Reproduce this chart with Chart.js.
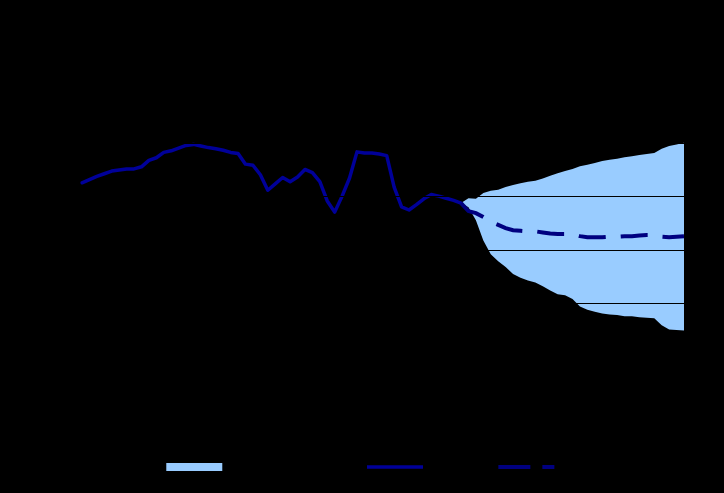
<!DOCTYPE html>
<html>
<head>
<meta charset="utf-8">
<script src="https://cdn.jsdelivr.net/npm/chart.js@4/dist/chart.umd.min.js"></script>
<style>
  html, body { margin: 0; padding: 0; background: #000; }
  #wrap { width: 724px; height: 493px; }
</style>
</head>
<body>
<div id="wrap"><canvas id="fanChart" width="724" height="493"></canvas></div>
<script>
// Quarterly periods, history then projection
const startYear = 1999;
const quarters = [];
for (let i = 0; i < 82; i++) {
    quarters.push(String(startYear + Math.floor(i / 4)) + ' Q' + (i % 4 + 1));
}

// History (first 52 quarters)
const actual = [2.26, 2.32, 2.38, 2.43, 2.48, 2.50, 2.52, 2.52, 2.56, 2.68, 2.73, 2.83, 2.86,
    2.91, 2.96, 2.98, 2.95, 2.92, 2.90, 2.87, 2.83, 2.81, 2.61, 2.59, 2.41, 2.12, 2.24, 2.36,
    2.28, 2.37, 2.51, 2.45, 2.28, 1.92, 1.71, 2.01, 2.35, 2.84, 2.82, 2.82, 2.80, 2.77, 2.18,
    1.81, 1.75, 1.85, 1.96, 2.04, 2.01, 1.97, 1.93, 1.88];

// Projection starts at the last actual quarter
const forecast = [1.88, 1.73, 1.69, 1.62, 1.53, 1.47, 1.41, 1.37, 1.36, 1.35, 1.35, 1.33, 1.31,
    1.30, 1.30, 1.30, 1.26, 1.24, 1.24, 1.24, 1.25, 1.25, 1.26, 1.26, 1.27, 1.28, 1.28, 1.25,
    1.24, 1.25, 1.26];
const bandUpper = [1.88, 1.97, 1.96, 2.07, 2.11, 2.13, 2.18, 2.22, 2.25, 2.28, 2.30, 2.34, 2.39,
    2.44, 2.48, 2.52, 2.57, 2.60, 2.63, 2.67, 2.69, 2.71, 2.74, 2.76, 2.78, 2.80, 2.82, 2.90,
    2.95, 2.98, 3.01];
const bandLower = [1.88, 1.80, 1.56, 1.18, 0.92, 0.79, 0.68, 0.55, 0.48, 0.43, 0.39, 0.32, 0.24,
    0.17, 0.15, 0.08, -0.06, -0.12, -0.16, -0.19, -0.21, -0.22, -0.24, -0.24, -0.26, -0.27,
    -0.28, -0.41, -0.49, -0.50, -0.51];

const seriesNames = ['Confidence interval', 'Actual', 'Median'];

// pad the series out to the full period axis
const forecastStart = actual.length - 1;
function padHistory(arr) {
    return arr.concat(new Array(quarters.length - arr.length).fill(null));
}
function padProjection(arr) {
    return new Array(forecastStart).fill(null).concat(arr);
}

Chart.defaults.color = '#000';
Chart.defaults.font.family = '"Liberation Sans", Arial, sans-serif';
Chart.defaults.font.size = 12;

document.addEventListener("DOMContentLoaded", function () {
    const ctx = document.getElementById('fanChart');
    new Chart(ctx, {
        type: 'line',
        data: {
            labels: quarters,
            datasets: [
                {
                    label: 'upper',
                    data: padProjection(bandUpper),
                    borderWidth: 0,
                    borderColor: 'rgba(0,0,0,0)',
                    pointRadius: 0,
                    fill: false,
                    order: 3
                },
                {
                    label: seriesNames[0],
                    data: padProjection(bandLower),
                    borderWidth: 0,
                    borderColor: 'rgba(0,0,0,0)',
                    backgroundColor: '#99ccff',
                    pointRadius: 0,
                    fill: '-1',
                    order: 2
                },
                {
                    label: seriesNames[1],
                    data: padHistory(actual),
                    borderColor: '#000099',
                    borderWidth: 3.5,
                    borderJoinStyle: 'round',
                    borderCapStyle: 'round',
                    pointRadius: 0,
                    tension: 0,
                    order: 1
                },
                {
                    label: seriesNames[2],
                    data: padProjection(forecast),
                    borderColor: '#000080',
                    borderWidth: 4,
                    borderDash: [27, 15],
                    pointRadius: 0,
                    tension: 0,
                    order: 0
                }
            ]
        },
        options: {
            responsive: false,
            animation: false,
            layout: { padding: { top: 90, left: 10, right: 40, bottom: 10 } },
            scales: {
                x: {
                    offset: false,
                    grid: { display: false },
                    border: { color: '#000' },
                    ticks: { maxRotation: 0, autoSkip: true, maxTicksLimit: 10 },
                    afterFit: function (scale) { scale.height = 15; }
                },
                y: {
                    min: -2,
                    max: 4,
                    ticks: { stepSize: 1 },
                    grid: { color: '#000', lineWidth: 1, z: 1 },
                    border: { color: '#000' },
                    afterFit: function (scale) { scale.width = 72; }
                }
            },
            plugins: {
                legend: {
                    position: 'bottom',
                    fullSize: false,
                    labels: {
                        usePointStyle: true,
                        pointStyleWidth: 56,
                        boxHeight: 8,
                        padding: 36,
                        generateLabels: function (chart) {
                            const ds = chart.data.datasets;
                            return [
                                { text: ds[1].label, pointStyle: 'rect', fillStyle: '#99ccff', strokeStyle: '#99ccff', lineWidth: 0, datasetIndex: 1 },
                                { text: ds[2].label, pointStyle: 'line', fillStyle: '#000099', strokeStyle: '#000099', lineWidth: 3.5, datasetIndex: 2 },
                                { text: ds[3].label, pointStyle: 'line', fillStyle: '#000080', strokeStyle: '#000080', lineWidth: 4, lineDash: [32, 12], datasetIndex: 3 }
                            ];
                        }
                    }
                },
                tooltip: { enabled: false }
            }
        }
    });
});
</script>
</body>
</html>
